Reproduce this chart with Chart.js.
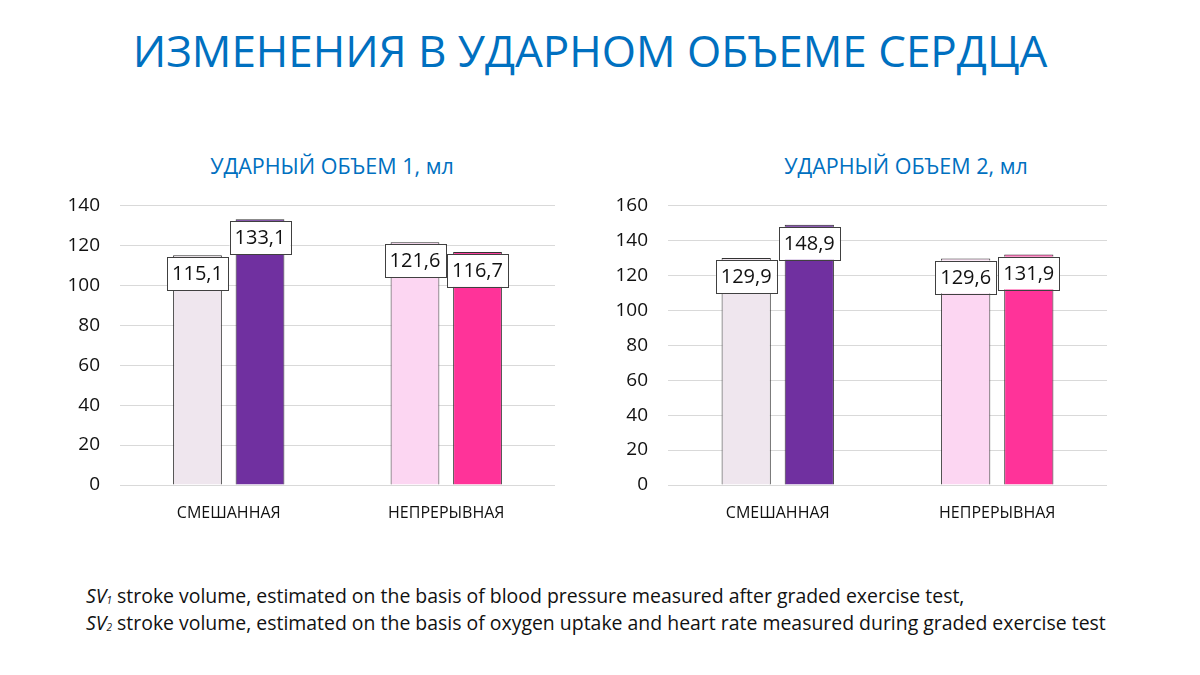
<!DOCTYPE html>
<html>
<head>
<meta charset="utf-8">
<script src="https://cdn.jsdelivr.net/npm/chart.js@4.4.1/dist/chart.umd.min.js"></script>
<style>
  body { margin: 0; width: 1200px; height: 675px; background: #fff; position: relative; overflow: hidden; font-family: "Open Sans", sans-serif; }
  #title { position: absolute; left: 0; top: 20px; width: 1180px; text-align: center; color: #0070C0; font-size: 44px; }
  .sub { position: absolute; top: 151px; width: 400px; text-align: center; color: #0070C0; font-size: 21.5px; }
  #sub1 { left: 132px; }
  #sub2 { left: 706px; }
  .box { position: absolute; top: 174px; height: 356px; }
  #left { left: 40px; width: 525px; }
  #right { left: 588px; width: 529px; }
  #notes { position: absolute; left: 86px; top: 582px; font-size: 19.45px; color: #111; }
  #notes div { line-height: 27px; height: 27px; }
  #notes sub { font-size: 10px; vertical-align: -1px; line-height: 0; }
</style>
</head>
<body>
<div id="title">ИЗМЕНЕНИЯ В УДАРНОМ ОБЪЕМЕ СЕРДЦА</div>
<div class="sub" id="sub1">УДАРНЫЙ ОБЪЕМ 1, мл</div>
<div class="sub" id="sub2">УДАРНЫЙ ОБЪЕМ 2, мл</div>
<div class="box" id="left"><canvas id="c1"></canvas></div>
<div class="box" id="right"><canvas id="c2"></canvas></div>
<div id="notes">
  <div><i>SV<sub>1</sub></i>&nbsp;stroke volume, estimated on the basis of blood pressure measured after graded exercise test,</div>
  <div><i>SV<sub>2</sub></i>&nbsp;stroke volume, estimated on the basis of oxygen uptake and heart rate measured during graded exercise test</div>
</div>
<script>
const categories = ["СМЕШАННАЯ", "НЕПРЕРЫВНАЯ"];

// ударный объем 1
const sv1First = [115.1, 121.6];
const sv1Second = [133.1, 116.7];
// ударный объем 2
const sv2First = [129.9, 129.6];
const sv2Second = [148.9, 131.9];

const firstColors = ["#EFE6EE", "#FCD6F2"];
const secondColors = ["#7030A0", "#FF3399"];

const fontName = "'Open Sans', sans-serif";

// white boxes with the values, just under the bar top
const valueBoxes = {
  id: "valueBoxes",
  afterDatasetsDraw(chart) {
    const ctx = chart.ctx;
    ctx.save();
    ctx.font = "20px " + fontName;
    ctx.textAlign = "center";
    ctx.textBaseline = "middle";
    chart.data.datasets.forEach((ds, di) => {
      chart.getDatasetMeta(di).data.forEach((bar, i) => {
        const txt = ds.data[i].toFixed(1).replace(".", ",");
        const w = ctx.measureText(txt).width + 10;
        const h = 33;
        const x = bar.x - w / 2;
        const y = bar.y + 2;
        ctx.fillStyle = "#fff";
        ctx.fillRect(x, y, w, h);
        ctx.strokeStyle = "#404040";
        ctx.lineWidth = 1;
        ctx.strokeRect(Math.round(x) + 0.5, Math.round(y) + 0.5, Math.round(w), h);
        ctx.fillStyle = "#111";
        ctx.fillText(txt, bar.x, y + h / 2 + 1);
      });
    });
    ctx.restore();
  }
};

function makeChart(id, first, second, maxY) {
  return new Chart(document.getElementById(id), {
    type: "bar",
    data: {
      labels: categories,
      datasets: [
        { data: first, backgroundColor: firstColors, borderColor: "#333", borderWidth: 1,
          barPercentage: 0.78, categoryPercentage: 0.575 },
        { data: second, backgroundColor: secondColors, borderColor: "#333", borderWidth: 1,
          barPercentage: 0.78, categoryPercentage: 0.575 }
      ]
    },
    options: {
      responsive: true,
      maintainAspectRatio: false,
      animation: false,
      layout: { padding: { left: 20, right: 10, top: 19, bottom: 0 } },
      plugins: {
        legend: { display: false },
        tooltip: { enabled: false }
      },
      scales: {
        x: {
          grid: { display: false },
          border: { display: false },
          ticks: { color: "#111", font: { family: fontName, size: 16 }, padding: 11 },
          afterFit(scale) { scale.height = 45; }
        },
        y: {
          min: 0,
          max: maxY,
          ticks: { stepSize: 20, color: "#111", font: { family: fontName, size: 19 }, padding: 20 },
          grid: { color: "#D9D9D9", drawTicks: false },
          border: { display: false },
          afterFit(scale) { scale.width = 60; }
        }
      }
    },
    plugins: [valueBoxes]
  });
}

makeChart("c1", sv1First, sv1Second, 140);
makeChart("c2", sv2First, sv2Second, 160);
</script>
</body>
</html>
